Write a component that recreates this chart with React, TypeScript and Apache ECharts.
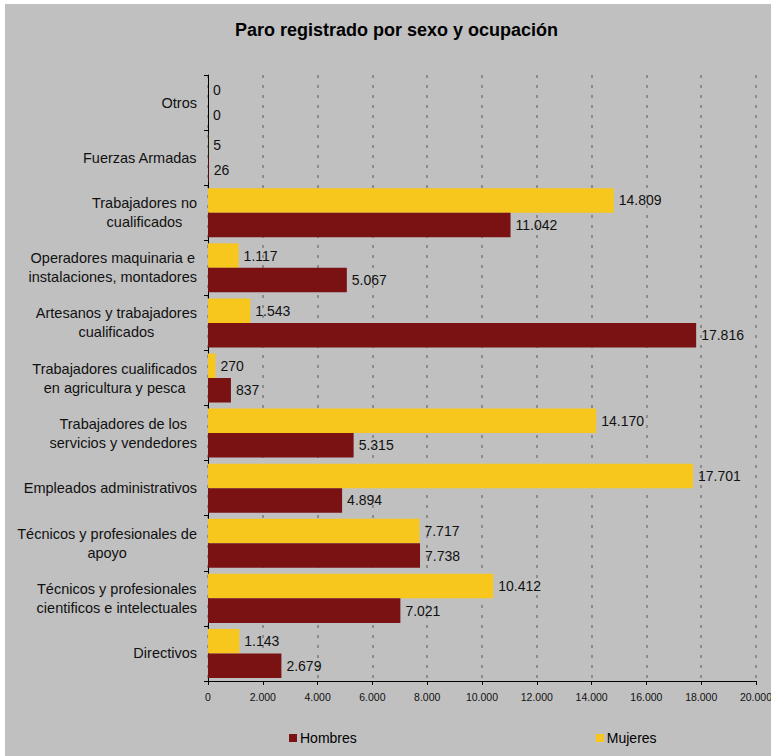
import React, { useEffect, useRef } from "react";
import * as echarts from "echarts";

const categories = [
  "Directivos",
  "Técnicos y profesionales\ncientificos e intelectuales",
  "Técnicos y profesionales de\napoyo",
  "Empleados administrativos",
  "Trabajadores de los\nservicios y vendedores",
  "Trabajadores cualificados\nen agricultura y pesca",
  "Artesanos y trabajadores\ncualificados",
  "Operadores maquinaria e\ninstalaciones, montadores",
  "Trabajadores no\ncualificados",
  "Fuerzas Armadas",
  "Otros",
];
const hombres = [2679, 7021, 7738, 4894, 5315, 837, 17816, 5067, 11042, 26, 0];
const mujeres = [1143, 10412, 7717, 17701, 14170, 270, 1543, 1117, 14809, 5, 0];
const xTicks = [0, 2000, 4000, 6000, 8000, 10000, 12000, 14000, 16000, 18000, 20000];

const fmt = (v: number) => String(Math.round(v)).replace(/\B(?=(\d{3})+(?!\d))/g, ".");

const FONT = "Arial";

export default function App() {
  const ref = useRef<HTMLDivElement>(null);
  useEffect(() => {
    document.body.style.margin = "0";
    const chart = echarts.init(ref.current!, null, { renderer: "svg" });
    chart.setOption({
      animation: false,
      backgroundColor: "#c0c0c0",
      textStyle: { fontFamily: FONT },
      title: {
        text: "Paro registrado por sexo y ocupación",
        left: 225,
        top: 12,
        textStyle: { fontFamily: FONT, fontSize: 18, fontWeight: "bold", color: "#000" },
      },
      legend: {
        data: ["Hombres", "Mujeres"],
        left: 279,
        top: 722,
        itemWidth: 8,
        itemHeight: 8,
        itemGap: 239,
        icon: "rect",
        textStyle: { fontFamily: FONT, fontSize: 14, color: "#000", padding: [0, 0, 0, -2] },
      },
      grid: { left: 203, right: 15, top: 71, bottom: 75, containLabel: false, outerBoundsMode: "none" },
      xAxis: {
        type: "value",
        min: xTicks[0],
        max: xTicks[xTicks.length - 1],
        interval: 2000,
        axisLine: { show: true, lineStyle: { color: "#000", width: 1 } },
        axisTick: { show: true, length: 4, lineStyle: { color: "#000" } },
        axisLabel: {
          fontFamily: FONT,
          fontSize: 10.5,
          color: "#111",
          margin: 10,
          hideOverlap: false,
          formatter: (v: number) => fmt(v),
        },
        splitLine: {
          show: true,
          lineStyle: { color: "#7a7a7a", width: 1.5, type: [3, 7] },
        },
      },
      yAxis: {
        type: "category",
        data: categories,
        axisLine: { show: true, lineStyle: { color: "#000", width: 1 } },
        axisTick: { show: true, length: 4, lineStyle: { color: "#000" } },
        axisLabel: {
          margin: 11,
          formatter: (v: string) => v.split("\n").map((l) => `{c|${l}}`).join("\n"),
          rich: {
            c: { align: "center", fontFamily: FONT, fontSize: 14.5, color: "#111", lineHeight: 19 },
          },
        },
        splitLine: { show: false },
      },
      series: [
        {
          name: "Mujeres",
          type: "bar",
          data: mujeres,
          barGap: "0%",
          barCategoryGap: "11%",
          itemStyle: { color: "#f7c71e" },
          label: {
            show: true,
            position: "right",
            distance: 5,
            fontFamily: FONT,
            fontSize: 14,
            color: "#111",
            formatter: (p: any) => fmt(p.value),
          },
        },
        {
          name: "Hombres",
          type: "bar",
          data: hombres,
          barGap: "0%",
          barCategoryGap: "11%",
          itemStyle: { color: "#7a1214" },
          label: {
            show: true,
            position: "right",
            distance: 5,
            fontFamily: FONT,
            fontSize: 14,
            color: "#111",
            formatter: (p: any) => fmt(p.value),
          },
        },
      ],
    });
    return () => chart.dispose();
  }, []);
  return (
    <div style={{ width: 771, height: 756, background: "#fff", position: "relative" }}>
      <div ref={ref} style={{ position: "absolute", left: 5, top: 4, width: 766, height: 752 }} />
    </div>
  );
}
